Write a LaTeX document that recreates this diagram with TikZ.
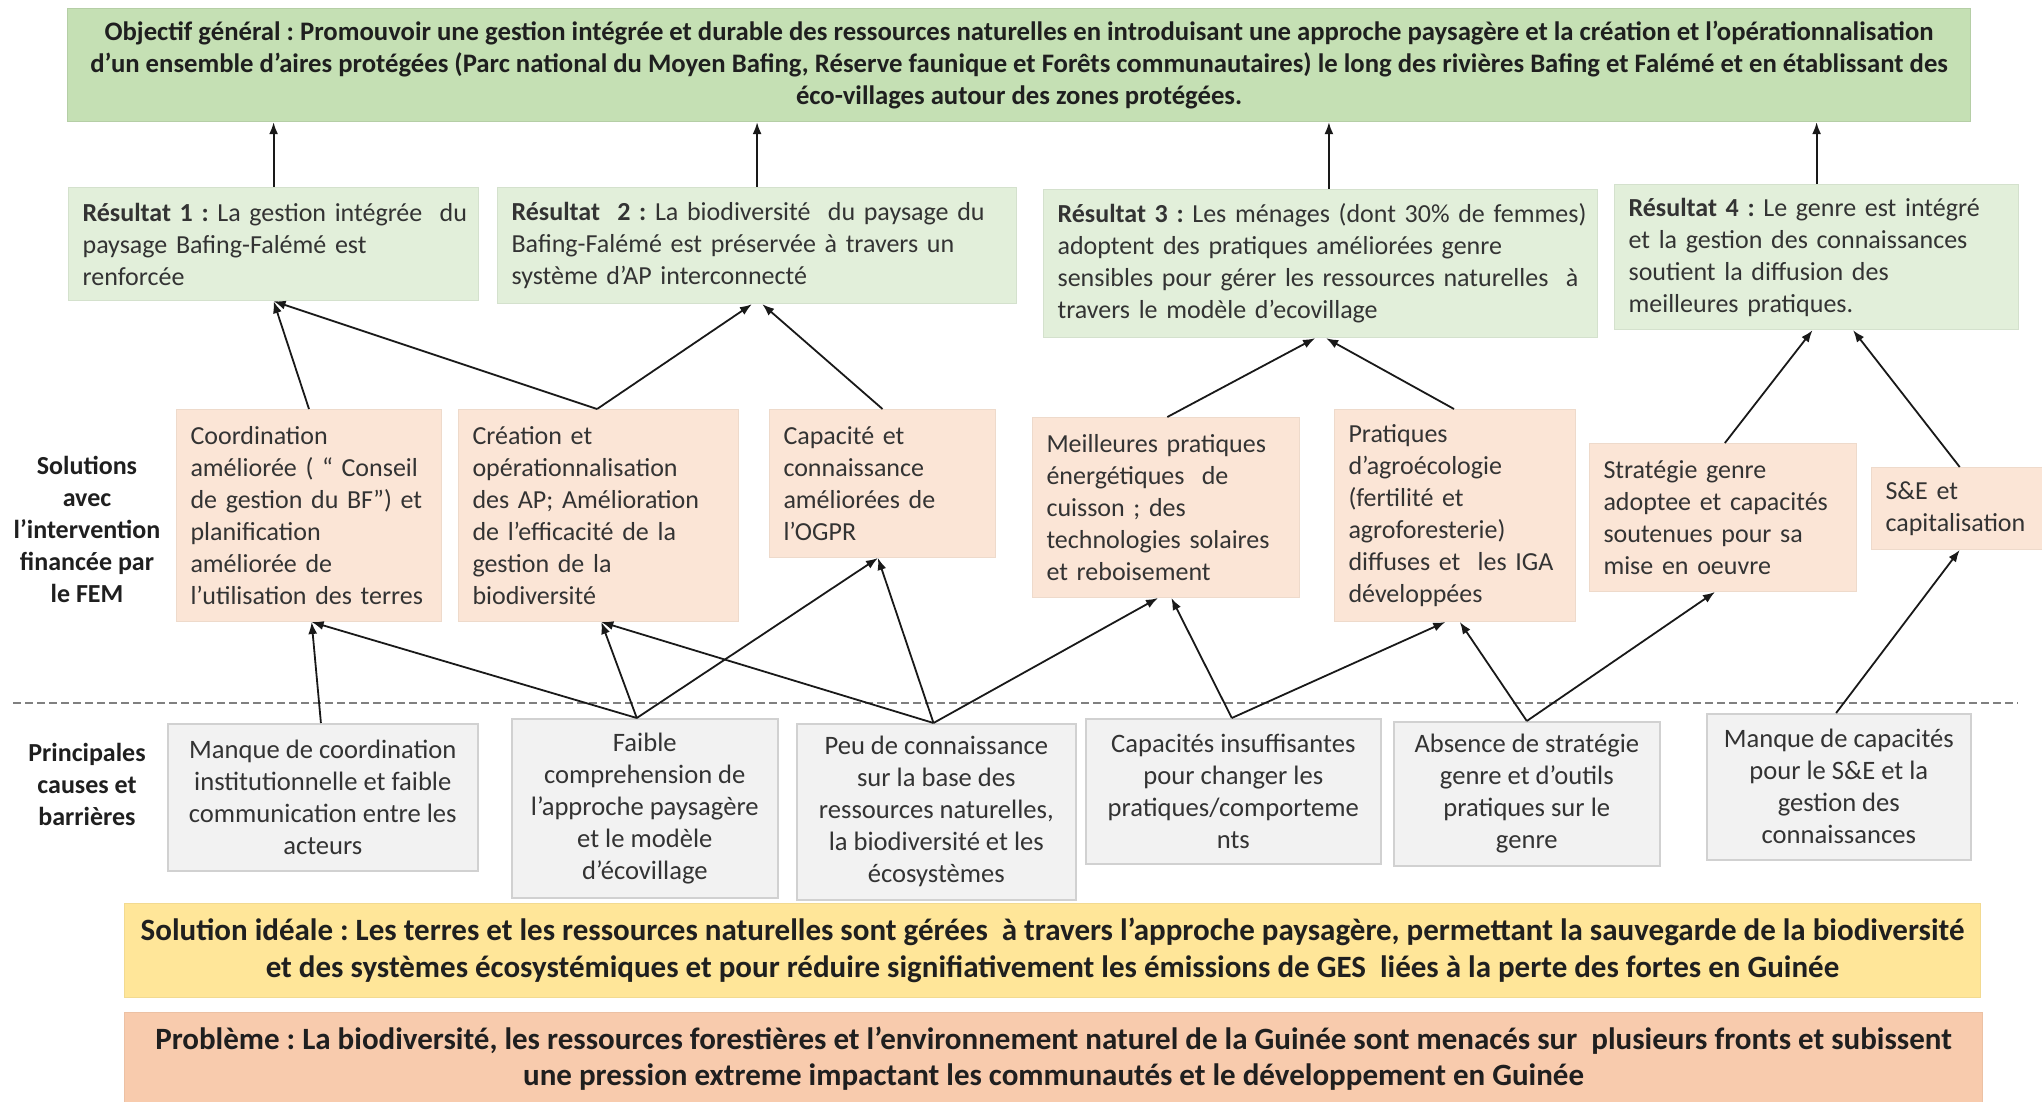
\documentclass[tikz,border=0pt]{standalone}
\usepackage{fontspec}
\setmainfont{Carlito}
\usetikzlibrary{arrows.meta,calc}
\frenchspacing
\definecolor{objg}{HTML}{C5E0B4}
\definecolor{resg}{HTML}{E2EFDA}
\definecolor{solo}{HTML}{FBE5D6}
\definecolor{caug}{HTML}{F2F2F2}
\definecolor{idey}{HTML}{FFE699}
\definecolor{prob}{HTML}{F8CBAD}
\definecolor{txtc}{HTML}{333333}
\tikzset{
  base/.style={anchor=north west, inner xsep=7pt, inner ysep=3pt, text=txtc,
    font=\fontsize{13}{16}\selectfont\frenchspacing},
  objbox/.style={base, fill=objg, draw=objg!92!black, line width=0.6pt, align=center,
    font=\fontsize{13.35}{16}\selectfont\bfseries\frenchspacing, text=black!88},
  resbox/.style={base, fill=resg, draw=resg!94!black, line width=0.6pt, align=left},
  solbox/.style={base, fill=solo, draw=solo!95!black, line width=0.5pt, align=left},
  caubox/.style={base, fill=caug, draw=black!18, line width=0.8pt, align=center,
    font=\fontsize{13.3}{16}\selectfont\frenchspacing},
  idebox/.style={base, fill=idey, draw=idey!95!black, line width=0.6pt, align=center,
    font=\fontsize{15.5}{18.3}\selectfont\bfseries\frenchspacing, text=black!88},
  probox/.style={base, fill=prob, draw=prob!95!black, line width=0.6pt, align=center,
    font=\fontsize{15.5}{18.3}\selectfont\bfseries\frenchspacing, text=black!88},
  sidelbl/.style={align=center, font=\fontsize{13}{16}\selectfont\bfseries, text=black!88},
  arr/.style={-{Latex[length=6pt,width=4.5pt]}, line width=0.9pt, black!90},
  sepline/.style={dashed, dash pattern=on 4pt off 2pt, line width=0.8pt, black!50}
}
\begin{document}
\begin{tikzpicture}[x=0.5pt,y=-0.5pt]
\fill[white] (0,0) rectangle (2042,1102);
\useasboundingbox (0,0) rectangle (2042,1102);

% Objective
\node[objbox, minimum width=951.5pt, minimum height=56.5pt] (obj) at (67,8)
{Objectif général : Promouvoir une gestion intégrée et durable des ressources naturelles en introduisant une approche paysagère et la création et l’opérationnalisation\\
d’un ensemble d'aires protégées (Parc national du Moyen Bafing, Réserve faunique et Forêts communautaires) le long des rivières Bafing et Falémé et en établissant des\\
éco-villages autour des zones protégées.};

% Results
\node[resbox, minimum width=205pt, minimum height=56.5pt, text width=191pt] (r1) at (68,187)
{\mbox{\textbf{Résultat 1 :} La gestion intégrée\ \ du}\\ paysage Bafing-Falémé est\\ renforcée};
\node[resbox, minimum width=259.5pt, minimum height=58pt, text width=245.5pt] (r2) at (497,187)
{\mbox{\textbf{Résultat\ \ 2 :} La biodiversité\ \ du paysage du}\\ \mbox{Bafing-Falémé est préservée à travers un}\\ système d’AP interconnecté};
\node[resbox, minimum width=277pt, minimum height=74pt, text width=263pt] (r3) at (1043,189)
{\mbox{\textbf{Résultat 3 :} Les ménages (dont 30\% de femmes)}\\ adoptent des pratiques améliorées genre\\ \mbox{sensibles pour gérer les ressources naturelles\ \ à}\\ travers le modèle d’ecovillage};
\node[resbox, minimum width=202pt, minimum height=72.5pt, text width=188pt] (r4) at (1614,184)
{\mbox{\textbf{Résultat 4 :} Le genre est intégré}\\ \mbox{et la gestion des connaissances}\\ soutient la diffusion des\\ meilleures pratiques.};

% Solutions
\node[sidelbl] (lsol) at (87,529) {Solutions\\ avec\\ l’intervention\\ financée par\\ le FEM};
\node[solbox, minimum width=132.5pt, minimum height=106pt, text width=118.5pt] (s1) at (176,409)
{Coordination\\ \mbox{améliorée ( “ Conseil}\\ \mbox{de gestion du BF”) et}\\ planification\\ améliorée de\\ \mbox{l’utilisation des terres}};
\node[solbox, minimum width=140pt, minimum height=106pt, text width=126pt] (s2) at (458,409)
{Création et\\ opérationnalisation\\ \mbox{des AP; Amélioration}\\ \mbox{de l’efficacité de la}\\ gestion de la\\ biodiversité};
\node[solbox, minimum width=113pt, minimum height=74pt, text width=99pt] (s3) at (769,409)
{Capacité et\\ connaissance\\ améliorées de\\ l’OGPR};
\node[solbox, minimum width=133.5pt, minimum height=90pt, text width=119.5pt] (s4) at (1032,417)
{\mbox{Meilleures pratiques}\\ énergétiques\ \ de\\ cuisson ; des\\ \mbox{technologies solaires}\\ et reboisement};
\node[solbox, minimum width=120.5pt, minimum height=106pt, text width=106.5pt] (s5) at (1334,409)
{Pratiques\\ d’agroécologie\\ (fertilité et\\ agroforesterie)\\ \mbox{diffuses et\ \ les IGA}\\ développées};
\node[solbox, minimum width=133.5pt, minimum height=74pt, text width=119.5pt] (s6) at (1589,443)
{Stratégie genre\\ \mbox{adoptee et capacités}\\ soutenues pour sa\\ mise en oeuvre};
\node[solbox, minimum width=90pt, minimum height=41pt, text width=76pt] (s7) at (1871,467)
{S\&E et\\ capitalisation};

% separator
\draw[sepline] (13,703) -- (2018,703);

% Causes
\node[sidelbl] (lcau) at (87,784) {Principales\\ causes et\\ barrières};
\node[caubox, minimum width=155pt, minimum height=73.5pt] (c1) at (167,723)
{Manque de coordination\\ institutionnelle et faible\\ communication entre les\\ acteurs};
\node[caubox, minimum width=133pt, minimum height=89.5pt] (c2) at (511,718)
{Faible\\ comprehension de\\ l’approche paysagère\\ et le modèle\\ d’écovillage};
\node[caubox, minimum width=139.5pt, minimum height=88pt] (c3) at (796,723)
{Peu de connaissance\\ sur la base des\\ ressources naturelles,\\ la biodiversité et les\\ écosystèmes};
\node[caubox, minimum width=147.5pt, minimum height=72.5pt] (c4) at (1085,718)
{Capacités insuffisantes\\ pour changer les\\ pratiques/comporteme\\ nts};
\node[caubox, minimum width=133pt, minimum height=72pt] (c5) at (1393,721)
{Absence de stratégie\\ genre et d’outils\\ pratiques sur le\\ genre};
\node[caubox, minimum width=132pt, minimum height=73pt] (c6) at (1706,713)
{Manque de capacités\\ pour le S\&E et la\\ gestion des\\ connaissances};

% Ideal solution and problem
\node[idebox, minimum width=928pt, minimum height=47pt] (ide) at (124,903)
{Solution idéale : Les terres et les ressources naturelles sont gérées\ \ à travers l’approche paysagère, permettant la sauvegarde de la biodiversité\\
et des systèmes écosystémiques et pour réduire signifiativement les émissions de GES\ \ liées à la perte des fortes en Guinée};
\node[probox, minimum width=929pt, minimum height=46pt] (pro) at (124,1012)
{Problème : La biodiversité, les ressources forestières et l’environnement naturel de la Guinée sont menacés sur\ \ plusieurs fronts et subissent\\
une pression extreme impactant les communautés et le développement en Guinée};

% connection points
\coordinate (r3t) at ($(r3.north west)!0.515!(r3.north east)$);
\coordinate (r1b) at ($(r1.south west)!0.5!(r1.south east)$);
\coordinate (r2b1) at ($(r2.south west)!0.49!(r2.south east)$);
\coordinate (r2b2) at ($(r2.south west)!0.51!(r2.south east)$);
\coordinate (r3b1) at ($(r3.south west)!0.49!(r3.south east)$);
\coordinate (r3b2) at ($(r3.south west)!0.51!(r3.south east)$);
\coordinate (r4b1) at ($(r4.south west)!0.49!(r4.south east)$);
\coordinate (r4b2) at ($(r4.south west)!0.59!(r4.south east)$);

\coordinate (s1t) at ($(s1.north west)!0.5!(s1.north east)$);
\coordinate (s2t) at ($(s2.north west)!0.495!(s2.north east)$);
\coordinate (s3t) at ($(s3.north west)!0.5!(s3.north east)$);
\coordinate (s4t) at ($(s4.north west)!0.505!(s4.north east)$);
\coordinate (s5t) at ($(s5.north west)!0.496!(s5.north east)$);
\coordinate (s6t) at ($(s6.north west)!0.507!(s6.north east)$);
\coordinate (s7t) at ($(s7.north west)!0.49!(s7.north east)$);

\coordinate (s1b) at ($(s1.south west)!0.51!(s1.south east)$);
\coordinate (s2b) at ($(s2.south west)!0.51!(s2.south east)$);
\coordinate (s3b) at ($(s3.south west)!0.48!(s3.south east)$);
\coordinate (s4b1) at ($(s4.south west)!0.47!(s4.south east)$);
\coordinate (s4b2) at ($(s4.south west)!0.52!(s4.south east)$);
\coordinate (s5b1) at ($(s5.south west)!0.46!(s5.south east)$);
\coordinate (s5b2) at ($(s5.south west)!0.52!(s5.south east)$);
\coordinate (s6b) at ($(s6.south west)!0.47!(s6.south east)$);
\coordinate (s7b) at ($(s7.south west)!0.49!(s7.south east)$);

\coordinate (c1t) at ($(c1.north west)!0.494!(c1.north east)$);
\coordinate (c2t) at ($(c2.north west)!0.47!(c2.north east)$);
\coordinate (c3t) at ($(c3.north west)!0.49!(c3.north east)$);
\coordinate (c4t) at ($(c4.north west)!0.495!(c4.north east)$);
\coordinate (c5t) at ($(c5.north west)!0.5!(c5.north east)$);
\coordinate (c6t) at ($(c6.north west)!0.49!(c6.north east)$);

% results -> objective
\draw[arr] (r1.north) -- (r1.north |- obj.south);
\draw[arr] (r2.north) -- (r2.north |- obj.south);
\draw[arr] (r3t) -- (r3t |- obj.south);
\draw[arr] (r4.north) -- (r4.north |- obj.south);

% solutions -> results
\draw[arr] (s1t) -- (r1b);
\draw[arr] (s2t) -- (r1b);
\draw[arr] (s2t) -- (r2b1);
\draw[arr] (s3t) -- (r2b2);
\draw[arr] (s4t) -- (r3b1);
\draw[arr] (s5t) -- (r3b2);
\draw[arr] (s6t) -- (r4b1);
\draw[arr] (s7t) -- (r4b2);

% causes -> solutions
\draw[arr] (c1t) -- (s1b);
\draw[arr] (c2t) -- (s1b);
\draw[arr] (c2t) -- (s2b);
\draw[arr] (c2t) -- (s3b);
\draw[arr] (c3t) -- (s2b);
\draw[arr] (c3t) -- (s3b);
\draw[arr] (c3t) -- (s4b1);
\draw[arr] (c4t) -- (s4b2);
\draw[arr] (c4t) -- (s5b1);
\draw[arr] (c5t) -- (s5b2);
\draw[arr] (c5t) -- (s6b);
\draw[arr] (c6t) -- (s7b);
\end{tikzpicture}
\end{document}
